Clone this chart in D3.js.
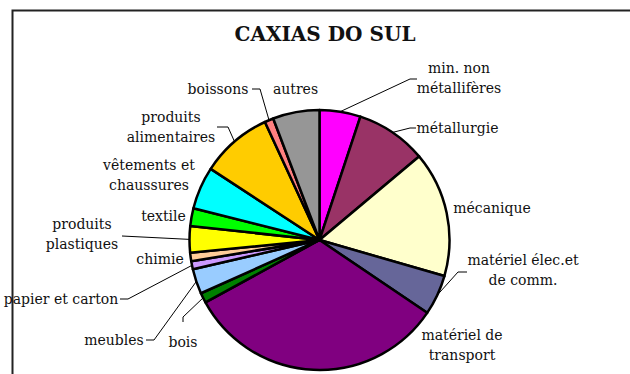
<!DOCTYPE html>
<html>
<head>
<meta charset="utf-8">
<script src="https://cdn.jsdelivr.net/npm/d3@7"></script>
<style>
  body { margin: 0; background: #fff; }
  text { font-family: "DejaVu Serif", serif; fill: #111; }
</style>
</head>
<body>
<div id="chart"></div>
<script>
// data (share of industrial employment, %)
var sectors = ["min. non métallifères", "métallurgie", "mécanique", "matériel élec.et de comm.",
  "matériel de transport", "bois", "meubles", "papier et carton", "chimie",
  "produits plastiques", "textile", "vêtements et chaussures", "produits alimentaires",
  "boissons", "autres"];
var shares = [5.1, 8.8, 15.6, 5.0, 32.6, 1.25, 3.1, 1.0, 1.05, 3.3, 2.2, 5.3, 8.9, 1.1, 5.8];
var colors = ["#ff00ff", "#993366", "#ffffcc", "#666699", "#800080", "#008000", "#99ccff",
  "#cc99ff", "#ffcc99", "#ffff00", "#00ff00", "#00ffff", "#ffcc00", "#ff8080", "#969696"];

var width = 630;
var height = 374;
var cx = 319.5;
var cy = 240;
var radius = 130;

// label layout: text lines, centre x, first line y, leader elbow points
var labelLayout = {
  "min. non métallifères": { lines: ["min. non", "métallifères"], x: 459, y: 68, lead: [[410, 79], [417, 79]] },
  "métallurgie": { lines: ["métallurgie"], x: 457.5, y: 128, lead: [[410, 128], [416, 128]] },
  "mécanique": { lines: ["mécanique"], x: 492, y: 208 },
  "matériel élec.et de comm.": { lines: ["matériel élec.et", "de comm."], x: 523, y: 260, lead: [[458, 272], [467, 272]] },
  "matériel de transport": { lines: ["matériel de", "transport"], x: 462, y: 335 },
  "bois": { lines: ["bois"], x: 183, y: 342, lead: [[183, 317], [183, 322]] },
  "meubles": { lines: ["meubles"], x: 114, y: 340, lead: [[154, 340], [146, 340]] },
  "papier et carton": { lines: ["papier et carton"], x: 61, y: 299, lead: [[128, 299], [120, 299]] },
  "chimie": { lines: ["chimie"], x: 160, y: 259 },
  "produits plastiques": { lines: ["produits", "plastiques"], x: 82, y: 224, lead: [[122, 236]] },
  "textile": { lines: ["textile"], x: 163.5, y: 216 },
  "vêtements et chaussures": { lines: ["vêtements et", "chaussures"], x: 149, y: 165 },
  "produits alimentaires": { lines: ["produits", "alimentaires"], x: 171, y: 117, lead: [[228, 127], [217, 127]] },
  "boissons": { lines: ["boissons"], x: 218, y: 89, lead: [[260, 89], [252, 89]] },
  "autres": { lines: ["autres"], x: 295.5, y: 89 }
};

var svg = d3
  .select("#chart")
  .append("svg")
  .attr("width", width)
  .attr("height", height);

// frame
svg.append("path")
  .attr("d", "M12.5," + height + "V10.5H" + width)
  .attr("fill", "none")
  .attr("stroke", "#222")
  .attr("stroke-width", 2);

// title
svg.append("text")
  .attr("x", 325)
  .attr("y", 41)
  .attr("text-anchor", "middle")
  .attr("font-size", 20)
  .attr("font-weight", "bold")
  .text("CAXIAS DO SUL");

var pieData = d3.pie().sort(null).value(function(d, i) { return shares[i]; })(sectors);

var arc = d3.arc().innerRadius(0).outerRadius(radius);

var g = svg.append("g").attr("transform", "translate(" + cx + "," + cy + ")");

g.selectAll("path.slice")
  .data(pieData)
  .enter()
  .append("path")
  .attr("class", "slice")
  .attr("d", arc)
  .attr("fill", function(d, i) { return colors[i]; })
  .attr("stroke", "#000")
  .attr("stroke-width", 2.5)
  .attr("stroke-linejoin", "round");

// leader lines from rim at mid angle
pieData.forEach(function(d) {
  var lay = labelLayout[d.data];
  if (!lay.lead) return;
  var mid = (d.startAngle + d.endAngle) / 2;
  var pts = [[cx + radius * Math.sin(mid), cy - radius * Math.cos(mid)]].concat(lay.lead);
  svg.append("path")
    .attr("d", d3.line()(pts))
    .attr("fill", "none")
    .attr("stroke", "#000")
    .attr("stroke-width", 1);
});

// labels
pieData.forEach(function(d) {
  var lay = labelLayout[d.data];
  var t = svg.append("text")
    .attr("text-anchor", "middle")
    .attr("font-size", 14);
  lay.lines.forEach(function(line, k) {
    t.append("tspan")
      .attr("x", lay.x)
      .attr("y", lay.y + k * 20)
      .attr("dy", "0.35em")
      .text(line);
  });
});
</script>
</body>
</html>
